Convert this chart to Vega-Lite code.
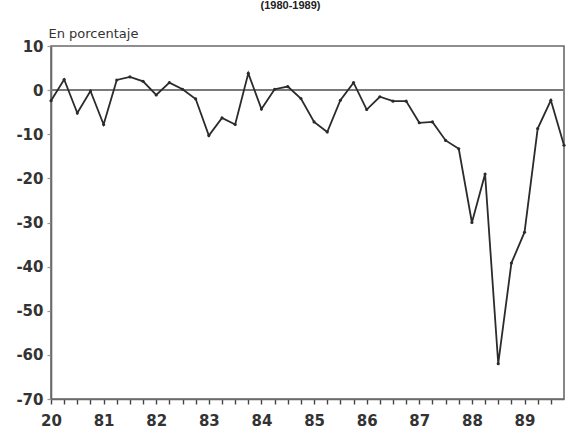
{
  "$schema": "https://vega.github.io/schema/vega-lite/v6.json",
  "width": 513,
  "height": 353,
  "autosize": "none",
  "padding": {"left": 51, "top": 46, "right": 4, "bottom": 38},
  "background": "white",
  "title": {
    "text": "(1980-1989)",
    "anchor": "middle",
    "frame": "group",
    "fontSize": 11,
    "fontWeight": "bold",
    "font": "Liberation Sans",
    "color": "#222",
    "baseline": "top",
    "offset": 16,
    "dx": -17
  },
  "config": {
    "view": {"stroke": "#6a6a6a", "strokeWidth": 1.6},
    "axis": {"labelFont": "DejaVu Sans", "titleFont": "DejaVu Sans"}
  },
  "data": {
    "values": [
      {"t": 1980.00, "v": -2.4}, {"t": 1980.25, "v": 2.4}, {"t": 1980.50, "v": -5.2}, {"t": 1980.75, "v": -0.2},
      {"t": 1981.00, "v": -7.8}, {"t": 1981.25, "v": 2.3}, {"t": 1981.50, "v": 3.0}, {"t": 1981.75, "v": 2.0},
      {"t": 1982.00, "v": -1.1}, {"t": 1982.25, "v": 1.7}, {"t": 1982.50, "v": 0.2}, {"t": 1982.75, "v": -2.0},
      {"t": 1983.00, "v": -10.3}, {"t": 1983.25, "v": -6.3}, {"t": 1983.50, "v": -7.8}, {"t": 1983.75, "v": 3.8},
      {"t": 1984.00, "v": -4.3}, {"t": 1984.25, "v": 0.2}, {"t": 1984.50, "v": 0.8}, {"t": 1984.75, "v": -1.9},
      {"t": 1985.00, "v": -7.2}, {"t": 1985.25, "v": -9.5}, {"t": 1985.50, "v": -2.3}, {"t": 1985.75, "v": 1.7},
      {"t": 1986.00, "v": -4.4}, {"t": 1986.25, "v": -1.5}, {"t": 1986.50, "v": -2.5}, {"t": 1986.75, "v": -2.5},
      {"t": 1987.00, "v": -7.4}, {"t": 1987.25, "v": -7.2}, {"t": 1987.50, "v": -11.4}, {"t": 1987.75, "v": -13.3},
      {"t": 1988.00, "v": -30.0}, {"t": 1988.25, "v": -19.0}, {"t": 1988.50, "v": -62.0}, {"t": 1988.75, "v": -39.2},
      {"t": 1989.00, "v": -32.2}, {"t": 1989.25, "v": -8.7}, {"t": 1989.50, "v": -2.3}, {"t": 1989.75, "v": -12.5}
    ]
  },
  "layer": [
    {
      "mark": {"type": "rule", "color": "#7a7a7a", "strokeWidth": 1.6},
      "encoding": {"y": {"datum": 0, "type": "quantitative"}}
    },
    {
      "mark": {"type": "line", "color": "#2b2b2b", "strokeWidth": 1.8, "point": {"filled": true, "size": 10, "color": "#2b2b2b"}},
      "encoding": {
        "x": {
          "field": "t",
          "type": "quantitative",
          "scale": {"domain": [1980, 1989.75], "nice": false, "zero": false},
          "axis": {
            "title": null,
            "grid": false,
            "values": [1980, 1980.25, 1980.5, 1980.75, 1981, 1981.25, 1981.5, 1981.75, 1982, 1982.25, 1982.5, 1982.75, 1983, 1983.25, 1983.5, 1983.75, 1984, 1984.25, 1984.5, 1984.75, 1985, 1985.25, 1985.5, 1985.75, 1986, 1986.25, 1986.5, 1986.75, 1987, 1987.25, 1987.5, 1987.75, 1988, 1988.25, 1988.5, 1988.75, 1989, 1989.25, 1989.5],
            "labelExpr": "datum.value % 1 === 0 ? (datum.value === 1980 ? '20' : substring(toString(datum.value), 2, 4)) : ''",
            "labelFontSize": 15,
            "labelFontWeight": "bold",
            "labelColor": "#333",
            "labelPadding": 9,
            "labelFlush": false,
            "labelOverlap": false,
            "tickSize": 5,
            "tickColor": "#444",
            "tickWidth": 1.4,
            "domainColor": "#6a6a6a",
            "domainWidth": 1.6,
            "encode": {
              "ticks": {
                "update": {
                  "y": {"value": -5},
                  "y2": {"signal": "datum.value % 1 === 0 ? 5 : 0"}
                }
              }
            }
          }
        },
        "y": {
          "field": "v",
          "type": "quantitative",
          "scale": {"domain": [-70, 10], "nice": false},
          "axis": {
            "title": "En porcentaje",
            "titleAngle": 0,
            "titleX": -3,
            "titleY": -9,
            "titleAlign": "left",
            "titleBaseline": "alphabetic",
            "titleFontSize": 13,
            "titleFontWeight": "normal",
            "titleColor": "#333",
            "values": [10, 0, -10, -20, -30, -40, -50, -60, -70],
            "grid": false,
            "labelFontSize": 15,
            "labelFontWeight": "bold",
            "labelColor": "#333",
            "labelPadding": 4,
            "labelFlush": false,
            "labelExpr": "datum.value < 0 ? '-' + toString(-datum.value) : toString(datum.value)",
            "tickSize": 4,
            "tickColor": "#999",
            "tickWidth": 1.2,
            "domainColor": "#6a6a6a",
            "domainWidth": 1.6,
            "encode": {
              "ticks": {
                "update": {
                  "x": {"value": 0},
                  "x2": {"value": 5}
                }
              }
            }
          }
        }
      }
    }
  ]
}
